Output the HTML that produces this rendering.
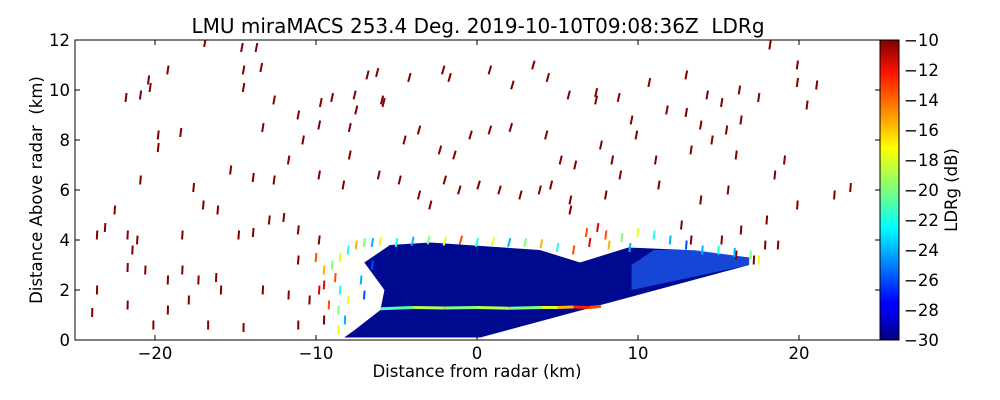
<!DOCTYPE html>
<html><head><meta charset="utf-8"><style>
body{margin:0;background:#fff;}
svg{display:block;font-family:"DejaVu Sans","Liberation Sans",sans-serif;}
</style></head><body>
<svg id="chart" width="1000" height="400" viewBox="0 0 1000 400">
<defs>
<linearGradient id="jet" x1="0" y1="1" x2="0" y2="0">
<stop offset="0" stop-color="#00007f"/><stop offset="0.11" stop-color="#0000ff"/>
<stop offset="0.125" stop-color="#0000ff"/><stop offset="0.34" stop-color="#00dcff"/>
<stop offset="0.375" stop-color="#00ffff"/><stop offset="0.5" stop-color="#7dff7a"/>
<stop offset="0.64" stop-color="#ffff00"/><stop offset="0.89" stop-color="#ff1400"/>
<stop offset="1" stop-color="#7f0000"/></linearGradient>
<clipPath id="plotclip"><rect x="75" y="40" width="805" height="300"/></clipPath>
</defs>
<text x="478" y="33" text-anchor="middle" font-size="20" xml:space="preserve">LMU miraMACS 253.4 Deg. 2019-10-10T09:08:36Z  LDRg</text>
<g id="plot" clip-path="url(#plotclip)"></g>
<rect x="75" y="40" width="805" height="300" fill="none" stroke="#000" stroke-width="1"/>
<g id="axes"></g>
<rect x="880" y="40" width="19" height="300" fill="url(#jet)" stroke="#000" stroke-width="1"/>
<text x="477" y="377" text-anchor="middle" font-size="16.5">Distance from radar (km)</text>
<text transform="translate(42,190) rotate(-90)" text-anchor="middle" font-size="16.5" xml:space="preserve">Distance Above radar  (km)</text>
<text transform="translate(957,190) rotate(-90)" text-anchor="middle" font-size="16.5">LDRg (dB)</text>
</svg>
<script>
const xTicks=[-20,-10,0,10,20];
const yTicks=[0,2,4,6,8,10,12];
const cbTicks=[-10,-12,-14,-16,-18,-20,-22,-24,-26,-28,-30];
const spX=[-16.9,-14.6,-13.7,-19.2,-20.3,-21.8,-20.9,-20.4,-14.5,-14.5,-12.6,-13.4,-11.1,-9.7,-9.0,-7.6,-5.9,-6.8,-6.2,-4.2,-2.1,-1.7,0.8,2.2,3.5,4.4,5.7,7.4,7.4,8.8,10.7,13.0,14.3,15.2,16.3,17.5,18.2,19.9,19.9,20.5,21.1,-19.8,-19.8,-18.4,-13.3,-11.7,-10.8,-9.8,-7.9,-7.5,-5.8,-4.5,-3.6,-2.3,-1.4,-0.4,0.8,2.1,4.3,5.2,6.1,7.7,8.4,9.6,9.9,11.1,11.8,13.0,13.9,13.3,14.6,15.5,16.1,16.4,19.1,18.5,22.2,23.2,-20.9,-17.6,-15.3,-13.9,-12.6,-9.8,-8.3,-7.9,-6.1,-4.8,-3.6,-2.9,-2.0,-1.1,0.1,1.4,2.7,3.9,4.6,5.8,5.8,8.0,8.9,11.3,13.9,15.6,18.0,19.9,-22.5,-23.1,-23.6,-21.7,-21.1,-18.3,-17.0,-16.1,-14.8,-13.9,-12.9,-12.0,-11.1,-9.8,-21.4,-21.7,-20.6,-19.2,-18.3,-17.3,-16.2,-15.9,-17.9,-19.2,-23.6,-23.9,-21.7,-20.1,-16.7,-14.5,-13.3,-11.1,-11.7,-10.4,-9.5,-11.1,12.7,13.3,15.2,16.4,17.9,18.7,16.1,17.2];
const spY=[11.9,11.7,11.7,10.8,10.1,9.7,9.8,10.4,10.8,10.1,9.6,10.9,9.0,9.5,9.7,9.8,9.6,10.6,10.7,10.5,10.8,10.5,10.8,10.2,11.0,10.5,9.8,9.9,9.6,9.7,10.3,10.6,9.8,9.5,10.0,9.7,11.8,11.0,10.3,9.4,10.2,8.2,7.7,8.3,8.5,7.2,8.0,8.6,8.5,9.2,9.5,8.0,8.4,7.6,7.4,8.2,8.4,8.5,8.2,7.2,7.0,7.8,7.2,8.8,8.2,7.2,9.2,9.1,8.6,7.6,8.0,8.4,7.4,8.8,7.2,6.6,5.8,6.1,6.4,6.1,6.8,6.5,6.4,6.6,6.2,7.4,6.6,6.4,5.8,5.4,6.4,6.0,6.2,6.0,5.8,6.0,6.2,5.6,5.2,5.8,6.6,6.2,5.6,6.0,4.8,5.4,5.2,4.5,4.2,4.2,4.0,4.2,5.4,5.2,4.2,4.3,4.8,4.9,4.4,4.0,3.6,2.9,2.8,2.4,2.8,2.4,2.5,2.0,1.6,1.2,2.0,1.1,1.4,0.6,0.6,0.5,2.0,3.2,1.8,1.6,0.8,0.6,4.6,4.0,4.0,4.4,3.8,3.8,3.4,3.2];
const frX=[-9.5,-9,-8.8,-8.5,-8,-7.5,-7,-6.5,-6,-5,-4,-3,-2,-1,0,1,2,3,4,5,6,7,8,9,10,11,12,13,14,15,16,17,17.5,-8.5,-8,-8.6,-8.2,-8.6,-9.2,-9.5,-7.2,-7,-6.5,7.5,8.2,9.5,6.8,-10,-9.8];
const frY=[2.8,3.0,2.5,3.3,3.6,3.8,3.9,3.9,3.95,3.9,3.95,4.0,3.95,4.0,3.9,3.95,3.9,3.9,3.85,3.7,3.6,3.9,4.2,4.1,4.3,4.2,4.0,3.8,3.6,3.6,3.5,3.4,3.2,2.0,1.6,1.2,0.8,0.4,1.4,2.2,2.4,1.8,3.0,4.5,3.8,3.7,4.3,3.3,2.0];
const frV=[-16,-20,-14,-18,-22,-16,-20,-24,-18,-22,-24,-20,-18,-14,-22,-18,-24,-20,-16,-22,-14,-12,-14,-20,-18,-22,-24,-26,-24,-22,-24,-20,-18,-22,-18,-20,-24,-18,-14,-12,-24,-26,-26,-12,-16,-24,-14,-14,-12];
const coreX=[-8.25,0.2,16.9,16.9,13,9.4,6.4,3.9,-2.9,-5.4,-7,-5.75,-6,-7.6];
const coreY=[0.1,0.1,3.0,3.3,3.6,3.7,3.1,3.6,3.9,3.8,3.1,2.0,1.2,0.4];
const lightX=[9.6,16.9,16.9,13.5,11,9.6];
const lightY=[2.0,3.0,3.3,3.6,3.6,3.0];
const mlX=[-6,-4,-2,0,2,4,5,6,7,7.7];
const mlY=[1.25,1.3,1.28,1.3,1.27,1.3,1.3,1.32,1.3,1.35];
const mlV=[-21,-19,-20,-19,-20,-18,-16,-13,-14,-20];

const X=v=>477+v*16.1, Y=v=>340-v*25;
const ns="http://www.w3.org/2000/svg";
function jet(v){let t=Math.max(0,Math.min(1,(v+30)/20));
 const f=(c)=>Math.round(255*Math.max(0,Math.min(1,1.5-Math.abs(4*t-c))));
 return `rgb(${f(3)},${f(2)},${f(1)})`;}
const plot=document.getElementById('plot'),axes=document.getElementById('axes');
function mk(tag,attrs,parent){const e=document.createElementNS(ns,tag);for(const k in attrs)e.setAttribute(k,attrs[k]);parent.appendChild(e);return e;}
const pts=(xs,ys)=>xs.map((x,i)=>X(x)+','+Y(ys[i])).join(' ');
let core=mk('polygon',{points:pts(coreX,coreY),fill:'#000a90'},plot);


let lt=mk('polygon',{points:pts(lightX,lightY),fill:'#1a55e6',opacity:'0.8'},plot);


for(let i=0;i<mlX.length-1;i++){
 let s=mk('line',{x1:X(mlX[i]),y1:Y(mlY[i]),x2:X(mlX[i+1]),y2:Y(mlY[i+1]),stroke:jet(mlV[i]),'stroke-width':3},plot);
 
 
}
function dash(x,y,v,name){
 const r=Math.hypot(x,y);
 let tx=(y/r)*0.3, ty=1;
 const n=Math.hypot(tx,ty),h=4.5;
 const dx=tx/n*h, dy=ty/n*h;
 const cx=X(x),cy=Y(y);
 let l=mk('line',{x1:cx-dx,y1:cy+dy,x2:cx+dx,y2:cy-dy,stroke:jet(v),'stroke-width':2},plot);
 
 
}
spX.forEach((x,i)=>dash(x,spY[i],-10,'clutter-speckle'));
frX.forEach((x,i)=>dash(x,frY[i],frV[i],'cloud-edge-speckle'));
xTicks.forEach(t=>{
 mk('line',{x1:X(t),y1:340,x2:X(t),y2:335,stroke:'#000'},axes);
 mk('line',{x1:X(t),y1:40,x2:X(t),y2:45,stroke:'#000'},axes);
 let tx=mk('text',{x:X(t),y:359,'text-anchor':'middle','font-size':16.5},axes);
 tx.textContent=(t<0?'\u2212'+(-t):t);
 
 
});
yTicks.forEach(t=>{
 mk('line',{x1:75,y1:Y(t),x2:80,y2:Y(t),stroke:'#000'},axes);
 mk('line',{x1:880,y1:Y(t),x2:875,y2:Y(t),stroke:'#000'},axes);
 let tx=mk('text',{x:70,y:Y(t)+6,'text-anchor':'end','font-size':16.5},axes);
 tx.textContent=t;
 
 
});
cbTicks.forEach(t=>{
 const y=340+(t+30)*-15;
 mk('line',{x1:899,y1:y,x2:894,y2:y,stroke:'#000'},axes);
 let tx=mk('text',{x:904,y:y+6,'font-size':16.5},axes);
 tx.textContent='\u2212'+(-t);
 
 
});
</script>
</body></html>
